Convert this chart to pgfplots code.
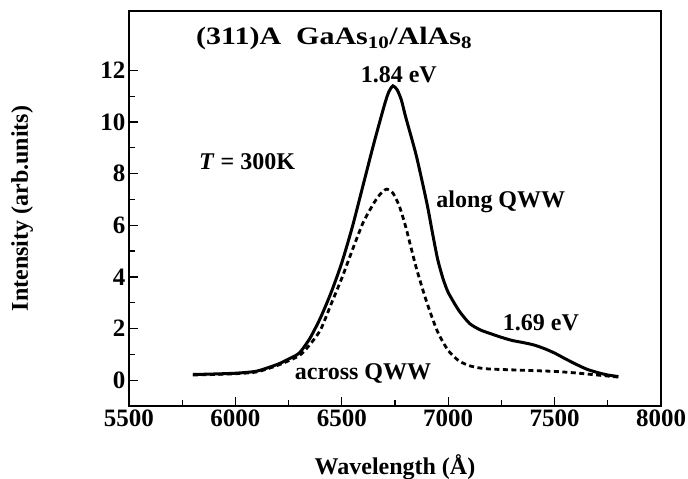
\documentclass[border=0pt]{standalone}
\usepackage{fontspec}
\setmainfont{Liberation Serif}
\newfontfamily\widefont[FakeStretch=1.2]{Liberation Serif}
\usepackage{pgfplots}
\pgfplotsset{compat=1.18}

% solid: along QWW, dashed: across QWW
\pgfplotstableread{
x y
5800 0.22
5900 0.24
6000 0.27
6100 0.35
6200 0.62
6250 0.82
6300 1.05
6350 1.62
6400 2.42
6450 3.4
6500 4.55
6550 5.95
6600 7.55
6650 9.15
6700 10.65
6720 11.15
6740 11.4
6760 11.25
6780 10.85
6800 10.2
6850 8.7
6900 6.85
6925 5.75
6950 4.7
6975 3.95
7000 3.4
7050 2.7
7100 2.2
7150 1.95
7200 1.8
7250 1.66
7300 1.54
7350 1.46
7400 1.37
7450 1.23
7500 1.05
7550 0.83
7600 0.62
7650 0.43
7700 0.3
7750 0.2
7800 0.14
}\along

\pgfplotstableread{
x y
5800 0.2
5900 0.22
6000 0.25
6100 0.32
6200 0.58
6300 0.95
6350 1.38
6400 1.95
6450 2.95
6500 3.95
6550 5.05
6600 6.1
6650 6.85
6680 7.2
6710 7.4
6740 7.25
6770 6.75
6800 5.95
6850 4.35
6900 3.0
6950 1.88
7000 1.15
7050 0.75
7100 0.56
7150 0.47
7200 0.43
7300 0.4
7400 0.37
7500 0.34
7600 0.28
7700 0.2
7800 0.12
}\across

\begin{document}
\begin{tikzpicture}[lbl/.style={inner sep=0pt, font=\fontsize{24}{28}\selectfont\bfseries}]
\path[use as bounding box] (-129pt,-73pt) rectangle (559pt,406pt);
\begin{axis}[
 scale only axis,
 width=532pt, height=395pt,
 xmin=5500, xmax=8000, ymin=-1, ymax=14.3,
 xtick={5500,6000,...,8000}, ytick={0,2,...,12},
 minor x tick num=1, minor y tick num=1,
 tick pos=left, tick align=inside,
 major tick length=9pt, minor tick length=6pt,
 axis line style={line width=1.6pt},
 every tick/.style={line width=1.3pt, black},
 /pgf/number format/1000 sep={},
 /pgf/number format/assume math mode=true,
 tick label style={font=\fontsize{25}{28}\selectfont\bfseries},
 xlabel={Wavelength (Å)}, ylabel={Intensity (arb.units)},
 label style={font=\fontsize{24}{28}\selectfont\bfseries},
 xlabel style={at={(axis description cs:0.5,-0.154)}, anchor=center},
 ylabel style={at={(axis description cs:-0.201,0.5)}, anchor=center},
]
\addplot[black, line width=3pt, smooth, tension=0.4] table {\along};
\addplot[black, line width=2.8pt, dash pattern=on 5pt off 3.5pt, smooth, tension=0.4] table {\across};
\node[lbl, anchor=base west, font=\fontsize{25}{28}\selectfont\widefont\bfseries] at (axis cs:5815,13.0) {(311)A\ \ GaAs\textsubscript{10}/AlAs\textsubscript{8}};
\node[lbl, anchor=base] at (axis cs:6768,11.54) {1.84 eV};
\node[lbl, anchor=base west] at (axis cs:5829,8.16) {\textit{T}\ =\ 300K};
\node[lbl, anchor=base west] at (axis cs:6944,6.68) {along QWW};
\node[lbl, anchor=base west] at (axis cs:7256,1.91) {1.69 eV};
\node[lbl, anchor=base west] at (axis cs:6279,0.04) {across QWW};
\end{axis}
\end{tikzpicture}
\end{document}
